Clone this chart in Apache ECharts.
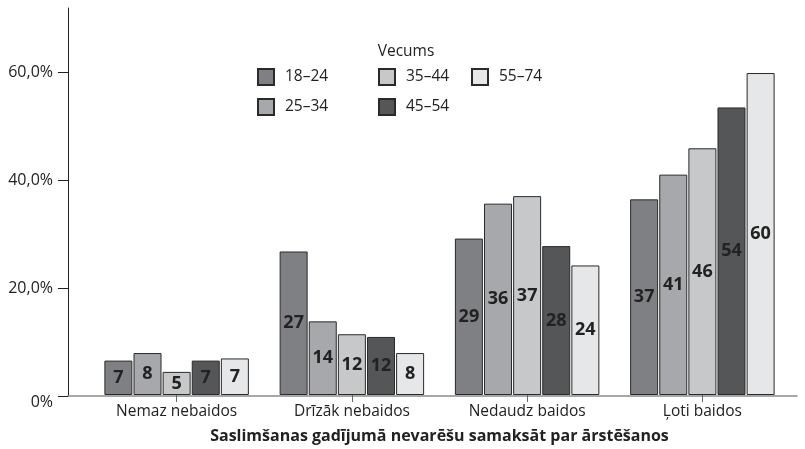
<!DOCTYPE html>
<html>
<head>
<meta charset="utf-8">
<script src="https://cdn.jsdelivr.net/npm/echarts@6/dist/echarts.min.js"></script>
<style>
  html, body { margin: 0; padding: 0; background: #fff; }
  #chart { width: 805px; height: 449px; }
</style>
</head>
<body>
<div id="chart"></div>
<script>
// kategorijas un vecuma grupas
const categories = ['Nemaz nebaidos', 'Drīzāk nebaidos', 'Nedaudz baidos', 'Ļoti baidos']
const ages = ['18–24', '25–34', '35–44', '45–54', '55–74']

// stabiņu augstumi (%)
const v1824 = [6.4, 26.7, 29.1, 36.4]
const v2534 = [7.8, 13.7, 35.6, 41.0]
const v3544 = [4.3, 11.3, 37.0, 45.9]
const v4554 = [6.4, 10.8, 27.7, 53.5]
const v5574 = [6.8, 7.8, 24.1, 59.9]

// uzraksti uz stabiņiem
const l1824 = [7, 27, 29, 37]
const l2534 = [8, 14, 36, 41]
const l3544 = [5, 12, 37, 46]
const l4554 = [7, 12, 28, 54]
const l5574 = [7, 8, 24, 60]

const yTicks = [0, 20, 40, 60]

const values = [v1824, v2534, v3544, v4554, v5574]
const labels = [l1824, l2534, l3544, l4554, l5574]
const colors = ['#7f8084', '#a7a8ab', '#c7c8ca', '#555658', '#e6e7e8']

const font = 'Open Sans'

const series = ages.map((name, i) => ({
  name: name,
  type: 'bar',
  xAxisIndex: 1,
  yAxisIndex: 1,
  barWidth: 28,
  barGap: '4%',
  data: values[i],
  itemStyle: { color: colors[i], borderColor: '#2a2a2a', borderWidth: 1 },
  label: {
    show: true,
    position: 'inside',
    color: '#222',
    fontFamily: font,
    fontWeight: 'bold',
    fontSize: 18,
    formatter: p => String(labels[i][p.dataIndex])
  }
}))

const legendBase = {
  orient: 'vertical',
  icon: 'rect',
  itemWidth: 16,
  itemHeight: 16,
  itemGap: 12,
  textStyle: { fontFamily: font, fontSize: 15.5, color: '#222', padding: [0, 0, 0, 6] },
  padding: 0
}

const option = {
  animation: false,
  title: {
    text: 'Vecums',
    left: 401,
    top: 39,
    textAlign: 'center',
    textStyle: { fontFamily: font, fontSize: 15.5, fontWeight: 'normal', color: '#222' }
  },
  legend: [
    Object.assign({}, legendBase, { left: 257, top: 68, data: [ages[0], ages[1]] }),
    Object.assign({}, legendBase, { left: 378, top: 68, data: [ages[2], ages[3]] }),
    Object.assign({}, legendBase, { left: 471, top: 68, data: [ages[4]] })
  ],
  grid: [
    { left: 68, right: 8, top: 8, bottom: 53 },
    { left: 89, right: 15, top: 8, bottom: 53 }
  ],
  xAxis: [
    {
      // tikai ass līnija pa visu platumu
      gridIndex: 0,
      type: 'category',
      data: categories,
      axisLine: { lineStyle: { color: '#8a8a8a', width: 1.5 } },
      axisTick: { show: false },
      axisLabel: { show: false }
    },
    {
      gridIndex: 1,
      type: 'category',
      data: categories,
      axisLine: { show: false },
      axisTick: { show: true, alignWithLabel: true, length: 7, lineStyle: { color: '#666' } },
      axisLabel: { fontFamily: font, fontSize: 15.5, color: '#222', margin: 9 },
      name: 'Saslimšanas gadījumā nevarēšu samaksāt par ārstēšanos',
      nameLocation: 'middle',
      nameGap: 33,
      nameTextStyle: { fontFamily: font, fontSize: 16, fontWeight: 'bold', color: '#222' }
    }
  ],
  yAxis: [
    {
      gridIndex: 0,
      type: 'value',
      min: 0,
      max: 72,
      axisLine: { show: true, lineStyle: { color: '#222' } },
      axisTick: { show: true, customValues: yTicks, length: 10, lineStyle: { color: '#222' } },
      axisLabel: {
        customValues: yTicks,
        fontFamily: font,
        fontSize: 16,
        color: '#222',
        margin: 15,
        formatter: v => v === 0 ? '{z|0%}' : v.toFixed(1).replace('.', ',') + '%',
        rich: { z: { fontFamily: font, fontSize: 16, color: '#222', padding: [12, 0, 0, 0] } }
      },
      splitLine: { show: false }
    },
    {
      gridIndex: 1,
      type: 'value',
      min: 0,
      max: 72,
      show: false
    }
  ],
  series: series
}

const myChart = echarts.init(document.getElementById('chart'))
myChart.setOption(option)
</script>
</body>
</html>
